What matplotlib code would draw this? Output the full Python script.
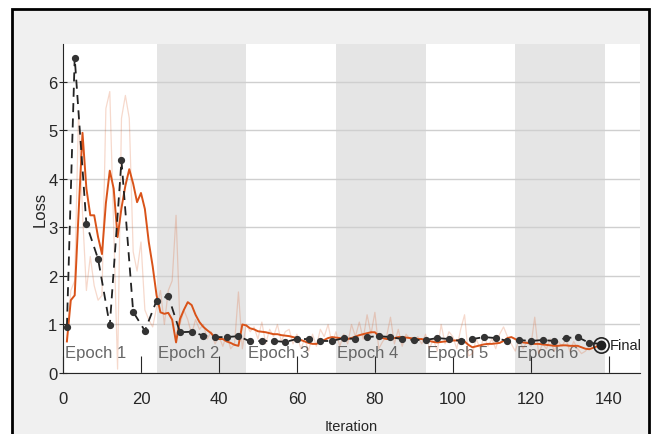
import matplotlib
matplotlib.use("Agg")
import matplotlib.pyplot as plt
from matplotlib.patches import Rectangle

# training loss, one value per iteration (1..138)
rawLoss = [
    0.65, 1.7, 1.9, 5.4, 3.3, 1.7, 2.4, 1.8, 1.5, 1.6,
    5.45, 5.8, 3.0, 0.08, 5.25, 5.72, 5.25, 2.5, 2.1, 2.7,
    1.3, 1.1, 0.95, 1.35, 1.7, 1.0, 1.7, 1.9, 3.25, 1.0,
    1.3, 1.1, 0.8, 1.1, 0.9, 1.0, 0.7, 0.85, 0.6, 0.75,
    0.55, 0.8, 0.5, 0.6, 1.67, 0.5, 1.0, 0.85, 0.95, 0.7,
    1.05, 0.6, 0.9, 0.75, 1.0, 0.65, 0.85, 0.9, 0.6, 0.8,
    0.5, 0.7, 0.45, 0.8, 0.55, 0.9, 0.75, 1.0, 0.6, 0.85,
    0.55, 0.8, 0.6, 1.0, 0.75, 1.05, 0.7, 1.2, 0.8, 1.25,
    0.5, 0.65, 0.75, 1.15, 0.6, 0.9, 0.55, 0.8, 0.7, 0.65,
    0.75, 0.6, 0.8, 0.5, 0.7, 0.45, 1.0, 0.6, 0.85, 0.75,
    0.5, 0.9, 1.2, 0.35, 0.4, 0.7, 0.5, 0.75, 0.55, 0.7,
    0.5, 0.8, 0.95, 0.75, 0.6, 0.45, 0.7, 0.5, 0.65, 0.55,
    1.15, 0.4, 0.6, 0.5, 0.7, 0.45, 0.65, 0.55, 0.7, 0.45,
    0.65, 0.5, 0.4, 0.45, 0.55, 0.6, 0.6, 0.55,
]

smoothLoss = [
    0.65, 1.5, 1.6, 3.3, 4.95, 3.8, 3.25, 3.25, 2.8, 2.45,
    3.5, 4.17, 3.8, 2.8, 3.4, 3.86, 4.2, 3.9, 3.52, 3.71,
    3.38, 2.7, 2.2, 1.6, 1.25, 1.22, 1.24, 1.1, 0.63, 1.11,
    1.3, 1.46, 1.4, 1.2, 1.05, 0.95, 0.88, 0.82, 0.72, 0.7,
    0.7, 0.65, 0.62, 0.58, 0.56, 1.0, 0.98, 0.92, 0.9, 0.86,
    0.85, 0.84, 0.82, 0.8, 0.8, 0.78, 0.77, 0.76, 0.74, 0.72,
    0.68, 0.65, 0.62, 0.6, 0.6, 0.64, 0.68, 0.72, 0.74, 0.73,
    0.72, 0.7, 0.7, 0.72, 0.75, 0.78, 0.8, 0.82, 0.84, 0.84,
    0.76, 0.72, 0.7, 0.7, 0.72, 0.74, 0.74, 0.73, 0.72, 0.71,
    0.7, 0.7, 0.68, 0.66, 0.64, 0.63, 0.64, 0.65, 0.66, 0.67,
    0.67, 0.68, 0.65, 0.58, 0.53, 0.55, 0.57, 0.59, 0.6, 0.6,
    0.61, 0.62, 0.66, 0.72, 0.74, 0.7, 0.65, 0.63, 0.62, 0.61,
    0.6, 0.6, 0.59, 0.58, 0.57, 0.56, 0.56, 0.57, 0.57, 0.56,
    0.56, 0.56, 0.53, 0.5, 0.49, 0.52, 0.55, 0.56,
]

valIter = [1, 3, 6, 9, 12, 15, 18, 21, 24, 27, 30, 33, 36, 39, 42, 45,
           48, 51, 54, 57, 60, 63, 66, 69, 72, 75, 78, 81, 84, 87, 90, 93,
           96, 99, 102, 105, 108, 111, 114, 117, 120, 123, 126, 129, 132,
           135, 138]
valLoss = [0.95, 6.5, 3.07, 2.35, 0.98, 4.38, 1.26, 0.87, 1.49, 1.59,
           0.84, 0.85, 0.77, 0.74, 0.74, 0.76, 0.65, 0.66, 0.66, 0.64,
           0.70, 0.70, 0.66, 0.66, 0.72, 0.70, 0.74, 0.76, 0.74, 0.70,
           0.68, 0.68, 0.72, 0.70, 0.66, 0.70, 0.74, 0.72, 0.66, 0.68,
           0.66, 0.68, 0.66, 0.72, 0.74, 0.62, 0.60]

epochStarts = [1, 24, 47, 70, 93, 116]
epochEnd = 139
epochLabelX = [0.5, 24.4, 47.4, 70.4, 93.4, 116.4]
epochNames = ["Epoch 1", "Epoch 2", "Epoch 3", "Epoch 4", "Epoch 5", "Epoch 6"]
finalIter = 138
finalLoss = 0.58

orange = "#D95319"
plt.rcParams["font.family"] = ["Liberation Sans", "DejaVu Sans"]

fig = plt.figure(figsize=(6.55, 4.35), dpi=100, facecolor="white")
fig.patches.append(Rectangle((12 / 655, -0.05), (649 - 12) / 655, 1 - 10 / 435 + 0.05,
                             transform=fig.transFigure, facecolor="#f0f0f0",
                             edgecolor="black", linewidth=2, zorder=-5))

ax = fig.add_axes([63 / 655, 1 - 374 / 435, (640 - 63) / 655, (374 - 45) / 435])
ax.set_zorder(1)
ax.set_facecolor("white")

# shaded epochs
bounds = epochStarts + [epochEnd]
for k in range(len(epochStarts)):
    if k % 2 == 1:
        ax.axvspan(bounds[k], bounds[k + 1], color="#e5e5e5", lw=0, zorder=0)
    ax.text(epochLabelX[k], 0.42, epochNames[k], color="#666666", fontsize=12,
            ha="left", va="center", zorder=2)

ax.set_xlim(0, 148)
ax.set_ylim(0, 6.78)
ax.set_yticks(range(0, 7))
ax.set_xticks(range(0, 141, 20))
ax.yaxis.grid(True, color="#cfcfcf", lw=1)
ax.set_axisbelow(True)

iters = list(range(1, len(rawLoss) + 1))
ax.plot(iters, rawLoss, color=orange, alpha=0.22, lw=0.9, zorder=3)
ax.plot(iters, smoothLoss, color=orange, lw=1.4, zorder=4)
ax.plot(valIter, valLoss, color="#222222", lw=1.3, ls=(0, (5, 3.5)),
        marker="o", markersize=4.2, markerfacecolor="#333333",
        markeredgecolor="#333333", zorder=5)

ax.plot([finalIter], [finalLoss], marker="o", markersize=11,
        markerfacecolor="none", markeredgecolor="#222222", mew=1.2, zorder=6)
ax.plot([finalIter], [finalLoss], marker="o", markersize=6,
        color="#222222", zorder=6)
ax.text(finalIter + 2.2, finalLoss, "Final", fontsize=10.5, color="#222222",
        ha="left", va="center", zorder=6)

for side in ["top", "right"]:
    ax.spines[side].set_visible(False)
ax.spines["left"].set_color("#262626")
ax.spines["bottom"].set_color("#262626")
ax.tick_params(axis="x", direction="in", length=12, pad=13, labelsize=12,
               colors="#262626")
ax.tick_params(axis="y", direction="inout", length=6, pad=1, labelsize=12,
               colors="#262626")

ax.set_xlabel("Iteration", fontsize=10.5, color="#262626", labelpad=9)
ax.set_ylabel("Loss", fontsize=12, color="#262626", labelpad=0)

fig.savefig("out.png", dpi=100, facecolor=fig.get_facecolor())
